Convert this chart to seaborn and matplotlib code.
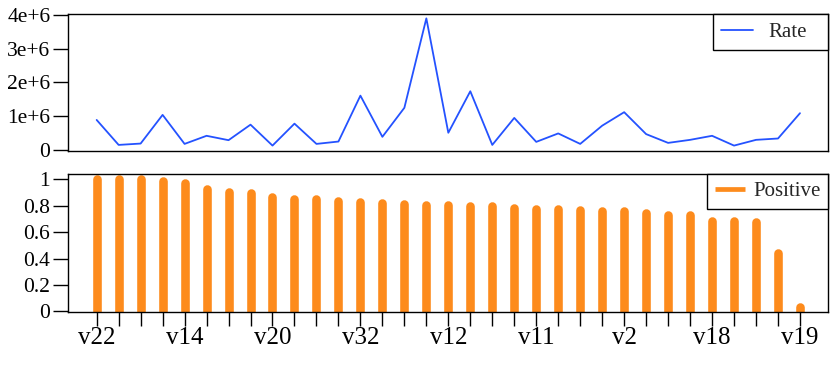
import numpy as np
import pandas as pd
import matplotlib
matplotlib.use("Agg")
import matplotlib.pyplot as plt
import seaborn as sns
from matplotlib.ticker import FixedLocator, FixedFormatter

# ---- data ----
rate = [0.89e6, 0.15e6, 0.19e6, 1.04e6, 0.18e6, 0.42e6, 0.29e6, 0.75e6, 0.13e6,
        0.78e6, 0.18e6, 0.25e6, 1.61e6, 0.39e6, 1.25e6, 3.90e6, 0.51e6, 1.74e6,
        0.15e6, 0.95e6, 0.24e6, 0.49e6, 0.18e6, 0.72e6, 1.12e6, 0.47e6, 0.21e6,
        0.30e6, 0.42e6, 0.13e6, 0.30e6, 0.34e6, 1.09e6]
positive = [1.00, 1.00, 1.00, 0.985, 0.975, 0.927, 0.904, 0.894, 0.869, 0.854,
            0.848, 0.836, 0.831, 0.818, 0.813, 0.808, 0.803, 0.798, 0.795, 0.783,
            0.778, 0.778, 0.765, 0.763, 0.758, 0.747, 0.730, 0.730, 0.682, 0.682,
            0.679, 0.444, 0.03]
tick_positions = [0, 4, 8, 12, 16, 20, 24, 28, 32]
tick_labels = ["v22", "v14", "v20", "v32", "v12", "v11", "v2", "v18", "v19"]
rate_ticks = [0, 1e6, 2e6, 3e6, 4e6]
rate_tick_labels = ["0", "1e+6", "2e+6", "3e+6", "4e+6"]
pos_ticks = [0, 0.2, 0.4, 0.6, 0.8, 1.0]
pos_tick_labels = ["0", "0.2", "0.4", "0.6", "0.8", "1"]

df = pd.DataFrame({"idx": np.arange(len(rate)), "Rate": rate, "Positive": positive})

sns.set_theme(style="white")
plt.rcParams["font.family"] = ["Liberation Serif", "DejaVu Serif"]
plt.rcParams["axes.edgecolor"] = "black"
plt.rcParams["axes.linewidth"] = 1.0

BLUE = "#2452ff"
ORANGE = "#fd8b1c"

fig = plt.figure(figsize=(8.31, 3.67), dpi=100)
ax1 = fig.add_axes([0.0822, 0.5886, 0.9146, 0.3733])
ax2 = fig.add_axes([0.0822, 0.1499, 0.9146, 0.3760])

# top: line
sns.lineplot(data=df, x="idx", y="Rate", ax=ax1, color=BLUE, linewidth=1.3, label="Rate")
ax1.set_xlim(-1.29, 33.29)
ax1.set_ylim(-0.03e6, 4.03e6)
ax1.yaxis.set_major_locator(FixedLocator(rate_ticks))
ax1.yaxis.set_major_formatter(FixedFormatter(rate_tick_labels))
ax1.set_xticks([])
ax1.set_xlabel("")
ax1.set_ylabel("")

# bottom: thick rounded stems
ax2.vlines(df["idx"], 0, df["Positive"], colors=ORANGE, linewidth=6.2,
           capstyle="round", label="Positive")
ax2.set_xlim(-1.29, 33.29)
ax2.set_ylim(-0.005, 1.04)
ax2.set_xticks(np.arange(len(positive)))
ax2.set_xticklabels([tick_labels[tick_positions.index(i)] if i in tick_positions else ""
                     for i in range(len(positive))])
ax2.yaxis.set_major_locator(FixedLocator(pos_ticks))
ax2.yaxis.set_major_formatter(FixedFormatter(pos_tick_labels))
ax2.set_xlabel("")
ax2.set_ylabel("")

for ax in (ax1, ax2):
    for s in ax.spines.values():
        s.set_visible(True)
        s.set_color("black")
        s.set_linewidth(1.0)
    ax.tick_params(axis="y", which="major", left=True, length=11, width=1.0,
                   color="black", labelsize=15.5, pad=2, labelcolor="black")
    ax.grid(False)
ax2.tick_params(axis="x", which="major", bottom=True, length=10, width=1.0,
                color="black", labelsize=18, pad=1, labelcolor="black")

leg1 = ax1.legend(loc="upper right", bbox_to_anchor=(0.848, 0.0, 0.152, 1.0),
                  mode="expand", borderaxespad=0, fancybox=False, framealpha=1,
                  edgecolor="black", fontsize=15, handlelength=1.53,
                  borderpad=0.4, handletextpad=0.72)
leg1.get_frame().set_linewidth(1.0)

leg2 = ax2.legend(loc="upper right", borderaxespad=0, fancybox=False, framealpha=1,
                  edgecolor="black", fontsize=15, handlelength=1.41,
                  borderpad=0.38, handletextpad=0.4)
leg2.get_frame().set_linewidth(1.0)
for line in leg2.get_lines():
    line.set_solid_capstyle("round")
    line.set_linewidth(3.4)

fig.savefig("out.png", dpi=100)
